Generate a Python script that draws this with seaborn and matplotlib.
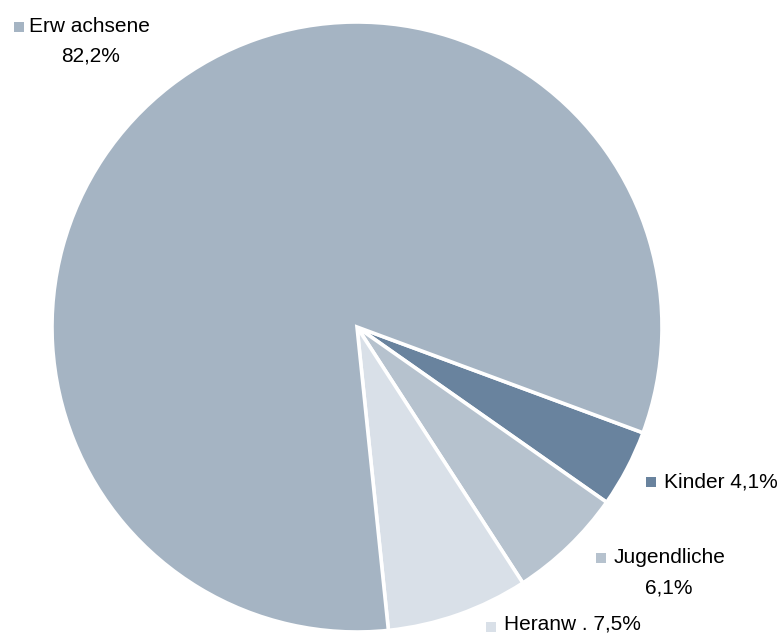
import matplotlib
matplotlib.use("Agg")
import matplotlib.pyplot as plt
import seaborn as sns

sns.set_theme(style="white")
plt.rcParams['font.family'] = ['Liberation Sans', 'DejaVu Sans']

# Data
categories = ["Kinder", "Jugendliche", "Heranw .", "Erw achsene"]
values = [4.1, 6.1, 7.5, 82.2]
value_labels = ["4,1%", "6,1%", "7,5%", "82,2%"]
colors = ["#69839E", "#B6C2CE", "#D9E0E8", "#A5B4C3"]

W, H = 782, 634
fig = plt.figure(figsize=(W / 100, H / 100), dpi=100)
ax = fig.add_axes([0, 0, 1, 1])

cx, cy, r = 357, 327, 305
# y axis is inverted (pixel space): counterclock in data = clockwise visually
ax.pie(values, colors=colors, startangle=20.3, counterclock=True,
       center=(cx, cy), radius=r,
       wedgeprops=dict(edgecolor="white", linewidth=2.6))
ax.set_xlim(0, W)
ax.set_ylim(H, 0)
ax.set_aspect("auto")
ax.axis("off")

fs = 15
def label(i, sqx, sqy, tx, ty, text, second=None):
    ax.scatter([sqx], [sqy], marker="s", s=44, color=colors[i], linewidths=0)
    ax.text(tx, ty, text, fontsize=fs, color="black", va="baseline", ha="left")
    if second is not None:
        sx, sy, st = second
        ax.text(sx, sy, st, fontsize=fs, color="black", va="baseline", ha="center")

label(3, 19, 27, 29, 32, categories[3], (91, 62, value_labels[3]))
label(0, 651, 482, 664, 487, f"{categories[0]} {value_labels[0]}")
label(1, 600.5, 558, 614, 563, categories[1], (669, 593, value_labels[1]))
label(2, 491, 626.5, 504, 630, f"{categories[2]} {value_labels[2]}")

fig.savefig("out.png", dpi=100, facecolor="white")
